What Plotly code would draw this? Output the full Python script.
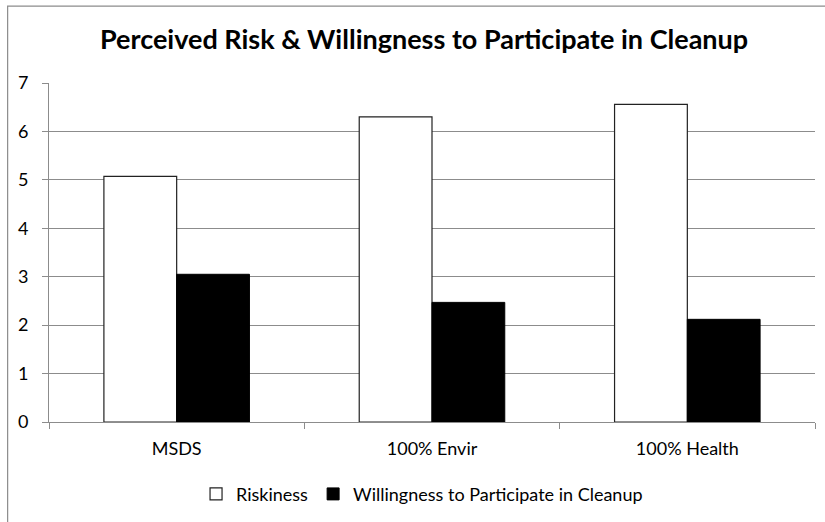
import plotly.graph_objects as go

# Survey means by information condition
categories = ["MSDS", "100% Envir", "100% Health"]
riskiness = [5.07, 6.30, 6.56]
willingness = [3.05, 2.47, 2.12]

series_names = ["Riskiness", "Willingness to Participate in Cleanup"]
y_ticks = [0, 1, 2, 3, 4, 5, 6, 7]

FONT = "Lato, 'Open Sans', sans-serif"
GRID = "#8c8c8c"

fig = go.Figure()
fig.add_trace(go.Bar(
    name=series_names[0], x=categories, y=riskiness,
    marker=dict(color="white", line=dict(color="#222222", width=1.2)),
))
fig.add_trace(go.Bar(
    name=series_names[1], x=categories, y=willingness,
    marker=dict(color="black", line=dict(color="black", width=1)),
))

fig.update_layout(
    width=825, height=522,
    paper_bgcolor="white", plot_bgcolor="white",
    margin=dict(l=49, r=10, t=83, b=99),
    barmode="group", bargap=0.43, bargroupgap=0,
    font=dict(family=FONT, size=18, color="black"),
    title=dict(
        text="<b>Perceived Risk &amp; Willingness to Participate in Cleanup</b>",
        x=0.514, xanchor="center", y=0.925, yanchor="middle",
        font=dict(family=FONT, size=27, color="black"),
    ),
    legend=dict(
        orientation="h", x=0.487, xanchor="center", y=-0.155, yanchor="top",
        font=dict(family=FONT, size=18), itemwidth=30,
        traceorder="normal",
    ),
    xaxis=dict(
        type="category", showgrid=False,
        showline=True, linecolor=GRID, linewidth=1,
        ticks="outside", ticklen=6, tickcolor=GRID, tickson="boundaries",
        tickfont=dict(family=FONT, size=18), ticklabelstandoff=10,
    ),
    yaxis=dict(
        range=[0, 7], tickvals=y_ticks,
        showgrid=True, gridcolor=GRID, gridwidth=1,
        showline=True, linecolor=GRID, linewidth=1,
        ticks="outside", ticklen=6, tickcolor=GRID,
        tickfont=dict(family=FONT, size=18), ticklabelstandoff=10,
        zeroline=False,
    ),
    shapes=[dict(
        type="rect", xref="paper", yref="paper",
        x0=-0.054, x1=1.2, y0=-0.5, y1=1.227,
        line=dict(color="#8c8c8c", width=1.2), layer="below",
    )],
)

fig.write_html("out.html")
